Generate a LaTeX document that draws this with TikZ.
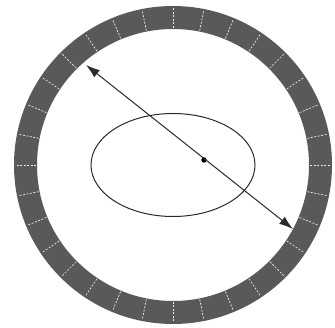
\documentclass[tikz,border=0pt]{standalone}
\usetikzlibrary{arrows.meta,calc,shapes.geometric}
\definecolor{ringgray}{HTML}{595959}
\definecolor{linegray}{HTML}{2A2A2A}
\tikzset{
  ringdiv/.style={white!85!gray, line width=0.7pt, dash pattern=on 2pt off 1.5pt},
  thinline/.style={linegray, line width=1pt},
  dblarrow/.style={thinline, {Latex[length=14pt,width=9pt]}-{Latex[length=14pt,width=9pt]}},
}
\begin{document}
\begin{tikzpicture}[x=1pt,y=-1pt]
\useasboundingbox (0,0) rectangle (335,328);
\fill[white] (0,0) rectangle (335,328);
\coordinate (c) at (173,165);
% ring
\fill[ringgray, even odd rule] (c) circle[radius=159] (c) circle[radius=136];
\foreach \k in {0,...,31}{
  \draw[ringdiv] ($(c)+(\k*11.25:137)$) -- ($(c)+(\k*11.25:158)$);
}
% ellipse
\node[draw=linegray, line width=1pt, ellipse, minimum width=164pt, minimum height=103pt, inner sep=0pt] (el) at (c) {};
% arrow through point
\coordinate (a1) at (86,65);
\coordinate (a2) at (293,229);
\node[circle, fill=black, minimum size=5.5pt, inner sep=0pt] (p) at (204,160) {};
\draw[dblarrow] (a1) -- (a2);
\end{tikzpicture}
\end{document}
